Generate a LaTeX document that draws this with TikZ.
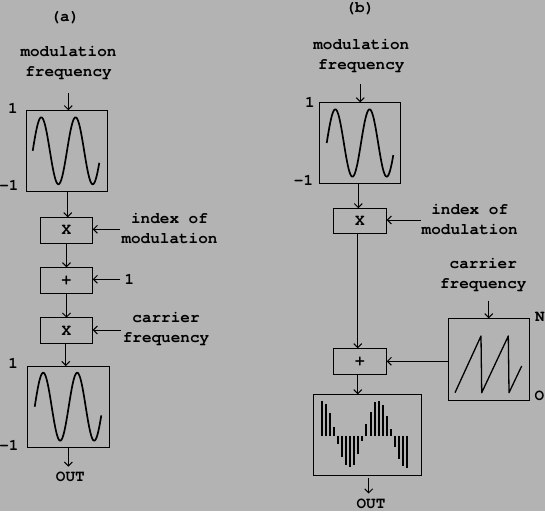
\documentclass[tikz,border=0pt]{standalone}
\usepackage{fontspec}
\setmonofont{TeX Gyre Cursor}
\usetikzlibrary{arrows.meta,calc}
\definecolor{bg}{RGB}{179,179,179}
\begin{document}
\begin{tikzpicture}[x=1pt,y=-1pt,
  lbl/.style={font=\ttfamily\bfseries\fontsize{16}{20}\selectfont, inner sep=0pt, align=center},
  word/.style={font=\ttfamily\bfseries\fontsize{16}{20}\selectfont, inner sep=0pt},
  box/.style={draw, line width=1pt, inner sep=0pt, outer sep=0pt, font=\ttfamily\bfseries\fontsize{16}{20}\selectfont},
  arr/.style={line width=1pt, -{Straight Barb[length=4pt,width=8pt,line width=1pt]}},
  wave/.style={line width=1.7pt, line join=round},
  bar/.style={line width=2pt, line cap=butt}]
\fill[bg] (0,0) rectangle (545,511);
\useasboundingbox (0,0) rectangle (545,511);

% ---------- panel (a) ----------
\node[word] (ta) at (65,18) {(a)};
\node[lbl] (mfa) at (68.5,63) {modulation\\frequency};
\node[box, minimum width=80.6pt, minimum height=81pt] (sa1) at (67,150.8) {};
\node[word] (sa1p) at (13,108) {1};
\node[word] (sa1m) at (9,185) {-1};
\draw[wave] plot[domain=32.7:99.3, samples=80, smooth] (\x, {150.8-33.5*sin((\x-32.7)/34.3*360)});
\node[box, minimum width=52.4pt, minimum height=26pt] (xa1) at (66.5,230.3) {X};
\node[lbl] (ima) at (169.5,229) {index of\\modulation};
\node[box, minimum width=52.4pt, minimum height=26pt] (pa) at (66.5,280.3) {+};
\node[word] (onea) at (129.3,279.3) {1};
\node[box, minimum width=52.4pt, minimum height=25.6pt] (xa2) at (66.5,330.5) {X};
\node[lbl] (cfa) at (166,329) {carrier\\frequency};
\node[box, minimum width=82pt, minimum height=81.3pt] (sa2) at (68.3,406.7) {};
\node[word] (sa2p) at (13.3,363.3) {1};
\node[word] (sa2m) at (9,445) {-1};
\draw[wave] plot[domain=34.7:101.3, samples=80, smooth] (\x, {406.7-34*sin((\x-34.7)/34*360)});
\node[word] (outa) at (70.3,476.7) {OUT};

\coordinate (ca1) at (68.3,93);
\coordinate (ca2) at (120,229.3);
\coordinate (ca3) at (120,279.3);
\coordinate (ca4) at (120.7,330);
\coordinate (ca5) at (68.3,466.7);
\draw[arr] (ca1) -- (ca1 |- sa1.north);
\draw[arr] ($(sa1.south)+(0.7,0)$) -- ($(sa1.south |- xa1.north)+(0.7,0)$);
\draw[arr] (ca2) -- (ca2 -| xa1.east);
\draw[arr] (xa1.south) -- (pa.north);
\draw[arr] (ca3) -- (ca3 -| pa.east);
\draw[arr] (pa.south) -- (xa2.north);
\draw[arr] (ca4) -- (ca4 -| xa2.east);
\draw[arr] ($(xa2.south)+(-0.8,0)$) -- ($(xa2.south |- sa2.north)+(-0.8,0)$);
\draw[arr] (ca5 |- sa2.south) -- (ca5);

% ---------- panel (b) ----------
\node[word] (tb) at (360,8.6) {(b)};
\node[lbl] (mfb) at (361.3,55.7) {modulation\\frequency};
\node[box, minimum width=81pt, minimum height=80.7pt] (sb) at (360.2,142.7) {};
\node[word] (sbp) at (310,102.7) {1};
\node[word] (sbm) at (303.5,180) {-1};
\draw[wave] plot[domain=326.7:393.3, samples=80, smooth] (\x, {143-33.7*sin((\x-326.7)/34.3*360)});
\node[box, minimum width=53.4pt, minimum height=25pt] (xb) at (360,220.8) {X};
\node[lbl] (imb) at (469.7,219.3) {index of\\modulation};
\node[box, minimum width=53.4pt, minimum height=26pt] (pb) at (360,361.3) {+};
\node[lbl] (cfb) at (483.3,275) {carrier\\frequency};
\node[box, minimum width=81pt, minimum height=82pt] (saw) at (488.8,359.3) {};
\node[word] (sawn) at (540,317.3) {N};
\node[word] (sawo) at (539.3,395.7) {O};
\draw[line width=1.3pt, line join=round] (455,392.7) -- (481,336) -- (481.7,392.7) -- (508.3,336) -- (509,392.7) -- (521.7,366);
\node[box, minimum width=108pt, minimum height=81pt] (bars) at (367.3,434.8) {};
\foreach \h [count=\i from 0] in {34.7,31.7,22.7,8.7,-8,-21,-29,-31.7,-29,-18.7,-5,11.7,23.7,33.7,34.7,30.7,19.7,6.7,-11,-23.3,-30.7,-32}
  \draw[bar] ({321.8+4.06*\i},435.7) -- ({321.8+4.06*\i},{435.7-\h});
\node[word] (outb) at (371,503.4) {OUT};

\coordinate (cb1) at (360.3,84);
\coordinate (cb2) at (420.7,220);
\coordinate (cb3) at (488.7,300.7);
\coordinate (cb4) at (368.7,493.5);
\draw[arr] (cb1) -- (cb1 |- sb.north);
\draw[arr] ($(sb.south)+(-1.9,0)$) -- ($(sb.south |- xb.north)+(-1.9,0)$);
\draw[arr] (cb2) -- (cb2 -| xb.east);
\draw[arr] ($(xb.south)+(-2.3,0)$) -- ($(xb.south |- pb.north)+(-2.3,0)$);
\draw[arr] (cb3) -- (cb3 |- saw.north);
\draw[arr] (saw.west |- pb.east) -- (pb.east);
\draw[arr] ($(pb.south)+(-2.3,0)$) -- ($(pb.south |- bars.north)+(-2.3,0)$);
\draw[arr, shorten <=2.7pt] (cb4 |- bars.south) -- (cb4);
\end{tikzpicture}
\end{document}
